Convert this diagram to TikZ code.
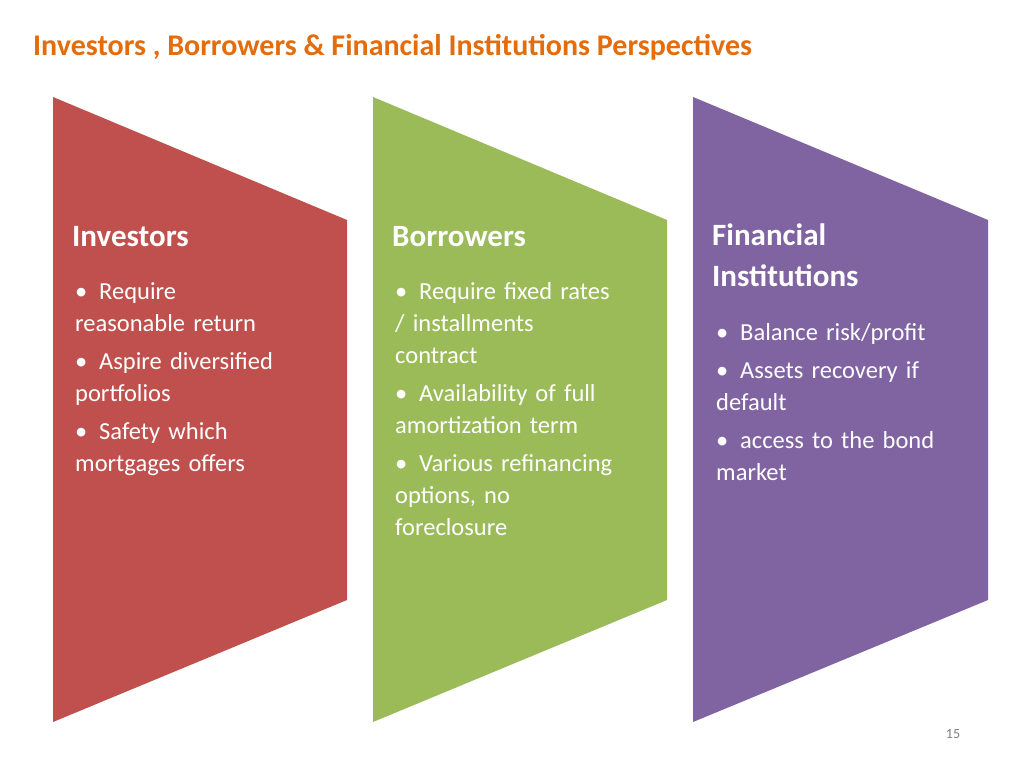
\documentclass[tikz,border=0pt]{standalone}
\usepackage{fontspec}
\setmainfont{Carlito}
\definecolor{tred}{HTML}{C0504D}
\definecolor{tgreen}{HTML}{9BBB59}
\definecolor{tpurple}{HTML}{8064A2}
\definecolor{torange}{HTML}{E46C0A}
\begin{document}
\begin{tikzpicture}[x=1pt,y=-1pt,
  head/.style={anchor=north west,text=white,font=\fontsize{31}{41}\selectfont\bfseries,align=left,inner sep=0pt},
  body/.style={anchor=north west,text=white,font=\fontsize{24.5}{32}\selectfont,align=left,inner sep=0pt,text width=260pt}]
\useasboundingbox (0,0) rectangle (1024,768);
\fill[white] (0,0) rectangle (1024,768);
\node[anchor=west,text=torange,font=\fontsize{30}{36}\selectfont\bfseries,inner sep=0pt] (title) at (33,47) {Investors , Borrowers \& Financial Institutions Perspectives};
\fill[tred] (53,97) -- (347,220) -- (347,600) -- (53,722) -- cycle;
\fill[tgreen] (373,97) -- (667,220) -- (667,600) -- (373,722) -- cycle;
\fill[tpurple] (693,97) -- (988,220) -- (988,600) -- (693,722) -- cycle;
\newcommand{\bl}[1]{\hangindent=24pt\hangafter=1\makebox[24pt][l]{\textbullet}#1\par\vspace{6pt}}
\node[head] (h1) at (72,226) {Investors};
\node[body] (b1) at (75,282) {\bl{Require\\reasonable return}\bl{Aspire diversified\\portfolios}\bl{Safety which\\mortgages offers}};
\node[head] (h2) at (392,226) {Borrowers};
\node[body] (b2) at (395,282) {\bl{Require fixed rates\\/ installments\\contract}\bl{Availability of full\\amortization term}\bl{Various refinancing\\options, no\\foreclosure}};
\node[head] (h3) at (712,224) {Financial\\Institutions};
\node[body] (b3) at (716,323) {\bl{Balance risk/profit}\bl{Assets recovery if\\default}\bl{access to the bond\\market}};
\node[text=gray,font=\fontsize{14}{16}\selectfont,inner sep=0pt] (pg) at (953,734) {15};
\end{tikzpicture}
\end{document}
